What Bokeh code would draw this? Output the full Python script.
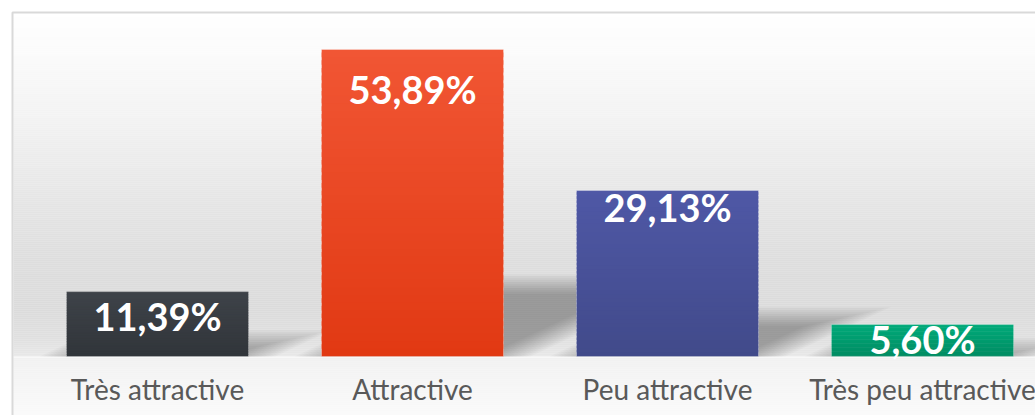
import numpy as np
from bokeh.plotting import figure
from bokeh.models import Range1d, ColumnDataSource
from bokeh.core.properties import value
from bokeh.embed import file_html
from bokeh.resources import INLINE

# ---- data ----
categories = ["Très attractive", "Attractive", "Peu attractive", "Très peu attractive"]
values = [11.39, 53.89, 29.13, 5.60]
labels = ["11,39%", "53,89%", "29,13%", "5,60%"]

# ---- style ----
top_colors = ["#3e4349", "#f15634", "#4f58a6", "#00aa7a"]
bottom_colors = ["#31353a", "#e13913", "#414a8a", "#008c62"]
label_offsets = [24, 40, 16, 14]   # px offsets of value labels below bar top

W, H = 1035, 415
CAT_PX = 255.0          # px per category
FIRST_PX = 157.0        # px of first category centre
BASE_PX = 356.0         # px of zero line (from top)
PX_PER_PCT = 5.697
BAR_W = 182.0 / CAT_PX

x0 = -FIRST_PX / CAT_PX
x1 = x0 + W / CAT_PX
y1 = BASE_PX / PX_PER_PCT
y0 = y1 - H / PX_PER_PCT


def dx(px):
    return x0 + px / CAT_PX


def dy(py):
    return y1 - py / PX_PER_PCT


def hex2rgb(h):
    h = h.lstrip("#")
    return np.array([int(h[i:i + 2], 16) for i in (0, 2, 4)], dtype=float)


def rgb2hex(c):
    c = np.clip(np.round(c), 0, 255).astype(int)
    return "#%02x%02x%02x" % tuple(c)


p = figure(width=W, height=H, x_range=Range1d(x0, x1), y_range=Range1d(y0, y1),
           x_axis_type=None, y_axis_type=None, output_backend="svg",
           toolbar_location=None, min_border=0)
p.outline_line_color = None
p.background_fill_color = "white"
p.border_fill_color = "white"
p.grid.visible = False

# ---- chart-area background gradient (page y -> gray level) ----
stop_y = [13, 60, 120, 200, 260, 310, 340, 356, 357, 415]
stop_g = [255, 250, 242, 229, 221, 219, 224, 232, 241, 250]
bl, br, bt, bb, bc = [], [], [], [], []
for py in range(13, H, 2):
    g = np.interp(py + 1, stop_y, stop_g)
    bl.append(dx(13)); br.append(dx(W + 50))
    bt.append(dy(py)); bb.append(dy(min(py + 2.3, BASE_PX) if py < BASE_PX else py + 2.3))
    bc.append(rgb2hex(np.array([g, g, g])))
p.quad(left=bl, right=br, top=bt, bottom=bb, fill_color=bc, line_color=None)

# frame border
p.quad(left=[dx(12)], right=[dx(W + 100)], top=[dy(12)], bottom=[dy(H + 100)],
       fill_color=None, line_color="#d9d9d9", line_width=2)

# ---- perspective shadows (soft, by layering) ----
SHIFT, RISE = 0.49, 0.23
slope = SHIFT / RISE
kk = np.sqrt(SHIFT ** 2 + RISE ** 2) / RISE
sx, sy = [], []
for i, v in enumerate(values):
    cx = FIRST_PX + i * CAT_PX
    L = cx - 91
    R = cx + 91
    h = v * PX_PER_PCT
    r = RISE * h
    for d in np.arange(-8, 13, 1.5):
        bot = BASE_PX + min(d, 0)
        top = BASE_PX - r - d
        if top >= bot - 1:
            continue
        xr_top = R + (BASE_PX - top) * slope + d * kk
        xr_bot = R + (BASE_PX - bot) * slope + d * kk
        xl_top = L + (BASE_PX - top) * slope - d * kk
        xl_bot = L + (BASE_PX - bot) * slope - d * kk
        sx.append([dx(q) for q in [xl_bot, xr_bot, xr_top, xl_top]])
        sy.append([dy(q) for q in [bot, bot, top, top]])
p.patches(xs=sx, ys=sy, fill_color="black", fill_alpha=0.023, line_color=None)

# ---- bars with vertical gradient ----
N = 40
vx, vt, vb, vc = [], [], [], []
for i, v in enumerate(values):
    ct = hex2rgb(top_colors[i])
    cb = hex2rgb(bottom_colors[i])
    for j in range(N):
        t = 1 - (j + 0.5) / N
        vx.append(i)
        vb.append(v * j / N)
        vt.append(min(v, v * (j + 1.6) / N))
        vc.append(rgb2hex(ct + (cb - ct) * t))
p.vbar(x=vx, top=vt, bottom=vb, width=BAR_W, fill_color=vc, line_color=None)
p.vbar(x=list(range(len(values))), top=values, bottom=0, width=BAR_W,
       fill_color=None, line_color="white", line_alpha=0.3, line_width=1)

# ---- value labels ----
src = ColumnDataSource(dict(x=list(range(len(values))), y=values, t=labels,
                            off=label_offsets))
p.text(x="x", y="y", text="t", y_offset="off", source=src,
       text_align="center", text_baseline="alphabetic",
       text_font=value("Lato"), text_font_style="bold",
       text_font_size=value("38px"), text_color="white")

# ---- category labels ----
csrc = ColumnDataSource(dict(x=list(range(len(categories))),
                             y=[0] * len(categories), t=categories))
p.text(x="x", y="y", text="t", y_offset=32, source=csrc,
       text_align="center", text_baseline="alphabetic",
       text_font=value("Lato"), text_font_size=value("28px"),
       text_color="#595959")

open("out.html", "w").write(file_html(p, INLINE))
